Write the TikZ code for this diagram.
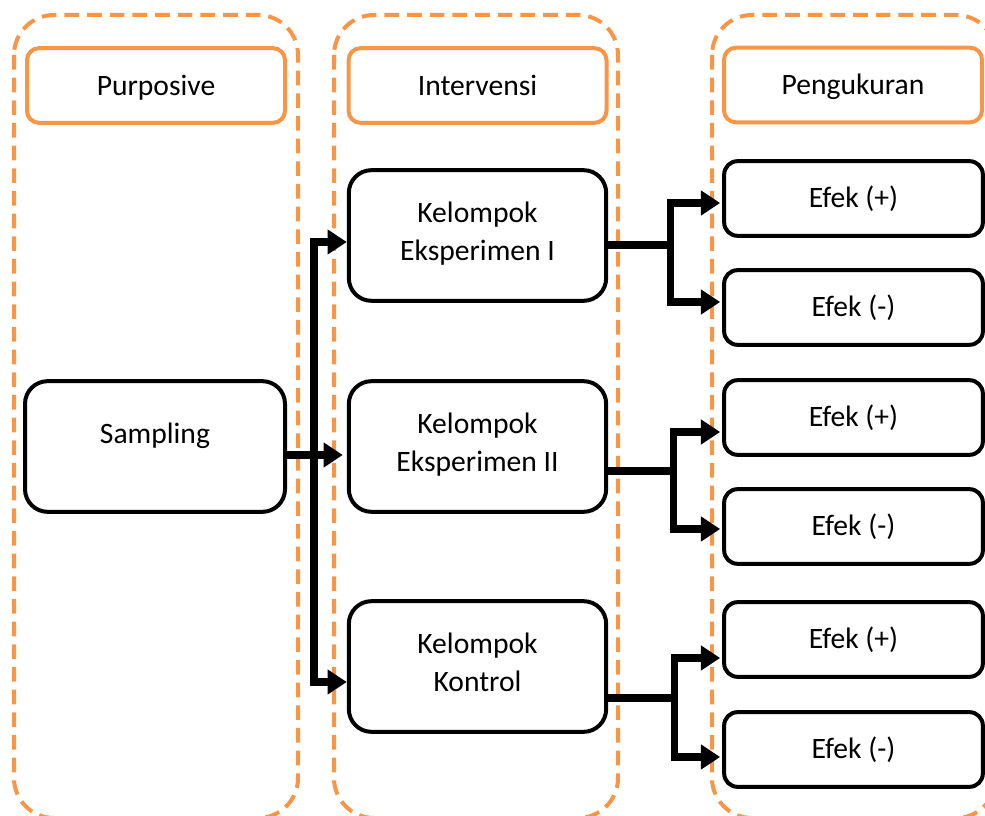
\documentclass[tikz,border=0pt]{standalone}
\usepackage{fontspec}
\setmainfont{Carlito}
\usetikzlibrary{arrows.meta,calc}
\definecolor{accent}{HTML}{F79646}
\begin{document}
\begin{tikzpicture}[x=0.75pt,y=-0.75pt,
  font=\fontsize{22.2}{30}\selectfont,
  container/.style={draw=accent,line width=3pt,dash pattern=on 11pt off 6pt,rounded corners=30pt},
  header/.style={draw=accent,line width=3pt,rounded corners=9pt,minimum width=193.5pt,minimum height=56pt,align=center},
  bigbox/.style={draw=black,line width=3pt,rounded corners=17pt,minimum width=193pt,minimum height=98pt,align=center},
  efek/.style={draw=black,line width=3pt,rounded corners=10pt,minimum width=194pt,minimum height=56pt,align=center},
  stem/.style={line width=5.5pt},
  arr/.style={line width=5.5pt,-{Triangle[length=14.5pt,width=18pt]}}]
\useasboundingbox (0,0) rectangle (985,816);
\clip (0,0) rectangle (985,816);
% containers
\draw[container] (14,15) rectangle (298,818);
\draw[container] (334,15) rectangle (618,818);
\draw[container] (712,15) rectangle (996,818);
% headers
\node[header,text depth=0pt] (h1) at (156,85.5) {Purposive};
\node[header] (h2) at (477.5,85.5) {Intervensi};
\node[header,text depth=0.5pt] (h3) at (853,85) {Pengukuran};
% boxes
\node[bigbox,minimum width=195pt,text depth=19.5pt] (samp) at (155,446.5) {Sampling};
\node[bigbox] (e1) at (477.5,235.5) {\raisebox{6.5pt}{\shortstack{Kelompok\\[7pt]Eksperimen I}}};
\node[bigbox] (e2) at (477.5,446.5) {\raisebox{6.5pt}{\shortstack{Kelompok\\[7pt]Eksperimen II}}};
\node[bigbox] (k) at (477.5,666.5) {\raisebox{6.5pt}{\shortstack{Kelompok\\[7pt]Kontrol}}};
\node[efek] (p1) at (853.5,198.5) {Efek (+)};
\node[efek] (m1) at (853.5,307.5) {Efek (-)};
\node[efek] (p2) at (853.5,417.5) {Efek (+)};
\node[efek] (m2) at (853.5,526.5) {Efek (-)};
\node[efek] (p3) at (853.5,639.5) {Efek (+)};
\node[efek] (m3) at (853.5,749.5) {Efek (-)};
% left connectors
\coordinate (tr) at ($(samp.east)+(27,8.5)$);
\draw[arr] ($(samp.east)+(0,8.5)$) -- ($(e2.west)+(-4,8.5)$);
\draw[arr] (tr) |- ($(e1.west)+(0,6.5)$);
\draw[arr] (tr) |- ($(k.west)+(0,15.5)$);
% right connectors
\coordinate (j1) at ($(e1.east)+(62,9.5)$);
\draw[stem] ($(e1.east)+(0,9.5)$) -- (j1);
\draw[arr] (j1) |- ($(p1.west)+(-2,4.5)$);
\draw[arr] (j1) |- ($(m1.west)+(-2,-5.5)$);
\coordinate (j2) at ($(e2.east)+(65,24.5)$);
\draw[stem] ($(e2.east)+(0,24.5)$) -- (j2);
\draw[arr] (j2) |- ($(p2.west)+(-2,14.5)$);
\draw[arr] (j2) |- ($(m2.west)+(-2,2.5)$);
\coordinate (j3) at ($(k.east)+(66,31.5)$);
\draw[stem] ($(k.east)+(0,31.5)$) -- (j3);
\draw[arr] (j3) |- ($(p3.west)+(-2,18.5)$);
\draw[arr] (j3) |- ($(m3.west)+(-2,7.5)$);
\end{tikzpicture}
\end{document}
